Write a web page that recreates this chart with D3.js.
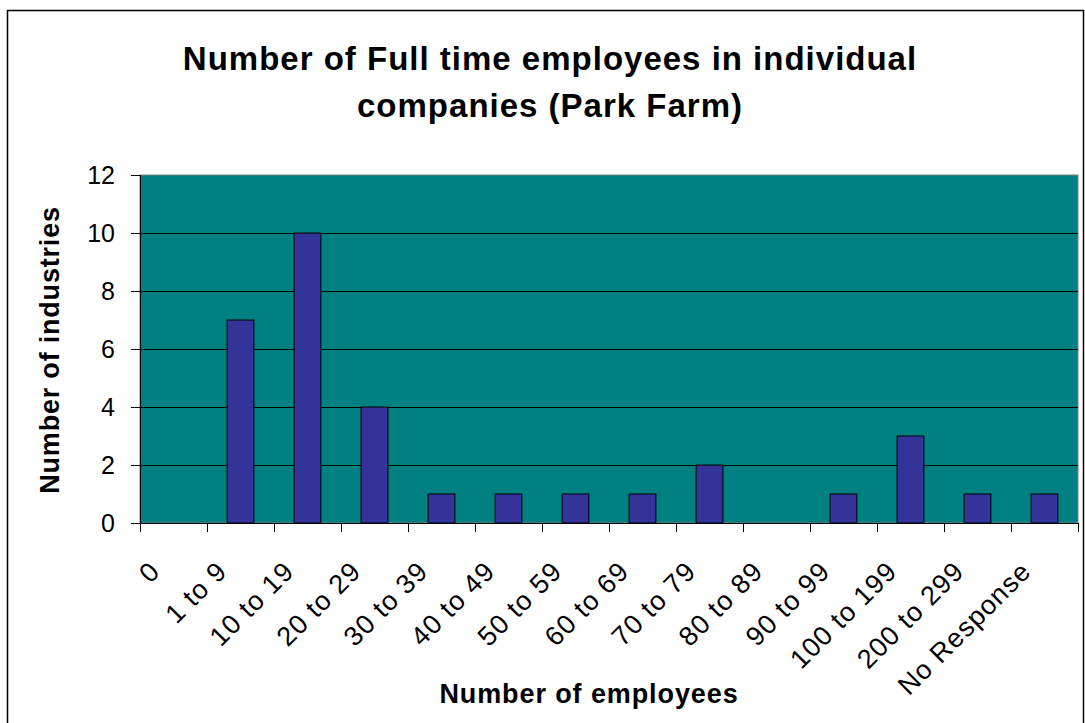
<!DOCTYPE html>
<html><head><meta charset="utf-8">
<script src="https://cdn.jsdelivr.net/npm/d3@7"></script>
<style>body{margin:0;background:#fff}svg{display:block}</style>
</head><body>
<script>
const categories = ["0","1 to 9","10 to 19","20 to 29","30 to 39","40 to 49","50 to 59","60 to 69","70 to 79","80 to 89","90 to 99","100 to 199","200 to 299","No Response"];
const values = [0,7,10,4,1,1,1,1,2,0,1,3,1,1];
const yTicks = [0,2,4,6,8,10,12];

const W=1085,H=723;
const FONT="Arial, 'Liberation Sans', sans-serif";
const svg=d3.select("body").append("svg").attr("width",W).attr("height",H);
svg.append("rect").attr("x",7.5).attr("y",10.5).attr("width",1076).attr("height",720).attr("fill","#fff").attr("stroke","#000").attr("stroke-width",1.5);

const L=140,R=1078,T=175,B=523;
const xb=d3.scaleBand().domain(categories).range([L,R]);
const y=d3.scaleLinear().domain([0,12]).range([B,T]);

svg.append("rect").attr("x",L).attr("y",T).attr("width",R-L).attr("height",B-T).attr("fill","#008080").attr("stroke","#808080");
svg.append("g").selectAll("line").data(yTicks.filter(d=>d>0&&d<12)).join("line")
  .attr("x1",L).attr("x2",R).attr("y1",d=>y(d)+0.5).attr("y2",d=>y(d)+0.5).attr("stroke","#000");

svg.append("g").selectAll("rect").data(values.map((v,i)=>({c:categories[i],v}))).join("rect")
  .attr("x",d=>xb(d.c)+xb.bandwidth()*0.3).attr("width",xb.bandwidth()*0.4)
  .attr("y",d=>y(d.v)).attr("height",d=>B-y(d.v))
  .attr("fill","#333399").attr("stroke","#000").attr("stroke-width",1);

// y axis
const ya=svg.append("g").attr("transform",`translate(${L},0)`)
  .call(d3.axisLeft(y).tickValues(yTicks).tickSize(9).tickPadding(16));
ya.select(".domain").attr("stroke","#000").attr("d",`M0.5,${T}V${B}`);
ya.selectAll(".tick line").attr("stroke","#000");
ya.selectAll("text").attr("font-family",FONT).attr("font-size",25).attr("fill","#000");

// x axis
const xa=svg.append("g").attr("transform",`translate(0,${B})`);
xa.append("line").attr("x1",L).attr("x2",R).attr("y1",0.5).attr("y2",0.5).attr("stroke","#000");
const bounds=categories.map(c=>xb(c)).concat([R]);
xa.selectAll("line.t").data(bounds).join("line").attr("class","t")
  .attr("x1",d=>d+0.5).attr("x2",d=>d+0.5).attr("y1",0).attr("y2",9).attr("stroke","#000");
xa.selectAll("text").data(categories).join("text")
  .attr("transform",c=>`translate(${xb(c)+xb.bandwidth()/2-12},${50}) rotate(-45)`)
  .attr("text-anchor","end").attr("letter-spacing",1)
  .attr("font-family",FONT).attr("font-size",27).text(c=>c);

// titles
const title=svg.append("text").attr("text-anchor","middle").attr("font-family",FONT)
  .attr("font-size",33).attr("font-weight","bold").attr("letter-spacing",1);
title.append("tspan").attr("x",550).attr("y",70).text("Number of Full time employees in individual");
title.append("tspan").attr("x",550).attr("y",117).text("companies (Park Farm)");
svg.append("text").attr("x",589).attr("y",703).attr("text-anchor","middle").attr("font-family",FONT)
  .attr("font-size",27).attr("font-weight","bold").attr("letter-spacing",0.9).text("Number of employees");
svg.append("text").attr("transform","translate(59,350) rotate(-90)").attr("text-anchor","middle").attr("font-family",FONT)
  .attr("font-size",27).attr("font-weight","bold").attr("letter-spacing",0.8).text("Number of industries");
</script>
</body></html>
